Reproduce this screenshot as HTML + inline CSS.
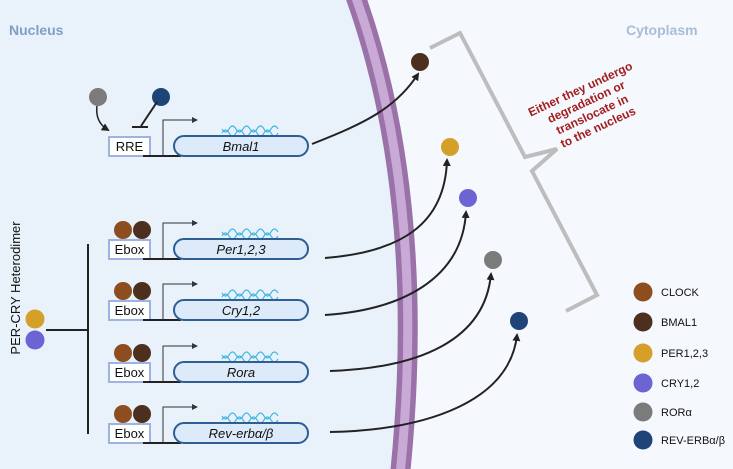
<!DOCTYPE html>
<html><head><meta charset="utf-8"><style>
html,body{margin:0;padding:0;background:#f5f8fd;}
svg{display:block;font-family:"Liberation Sans",sans-serif;}
</style></head><body>
<svg width="733" height="469" viewBox="0 0 733 469" xmlns="http://www.w3.org/2000/svg">
<defs>
<marker id="ah" markerWidth="8" markerHeight="8" refX="6" refY="4" orient="auto" markerUnits="userSpaceOnUse"><path d="M0,0 L8,4 L0,8 Z" fill="#222"/></marker>
<marker id="sa" markerWidth="6" markerHeight="6" refX="5" refY="3" orient="auto" markerUnits="userSpaceOnUse"><path d="M0,0 L6,3 L0,6 Z" fill="#333"/></marker>
<g id="dna" fill="none" stroke="#3cb6e0" stroke-width="1.2">
<path d="M222,0 q3.5,-6 7,0 t7,0 t7,0 t7,0 t7,0 t7,0 t7,0 t7,0"/>
<path d="M222,-4 q3.5,6 7,0 t7,0 t7,0 t7,0 t7,0 t7,0 t7,0 t7,0"/>
</g>
</defs>
<rect width="733" height="469" fill="#f5f8fd"/>
<path d="M0,0 L355,0 C400,120 420,280 400,469 L0,469 Z" fill="#e9f1fb"/>
<path d="M355,-5 C400,120 420,280 400,475" fill="none" stroke="#9a72a8" stroke-width="20"/>
<path d="M355,-5 C400,120 420,280 400,475" fill="none" stroke="#c9aad6" stroke-width="9"/>
<text x="9" y="35" font-size="14" font-weight="bold" fill="#7f9ec8">Nucleus</text>
<text x="626" y="35" font-size="14" font-weight="bold" fill="#a9bdd8">Cytoplasm</text>

<circle cx="98" cy="97" r="9" fill="#7b7b7b"/>
<circle cx="161" cy="97" r="9" fill="#1f4478"/>
<path d="M97,106 Q95,122 108,130" fill="none" stroke="#222" stroke-width="1.5" marker-end="url(#ah)"/>
<line x1="157" y1="102" x2="141" y2="126" stroke="#222" stroke-width="2"/>
<line x1="132" y1="127" x2="148" y2="127" stroke="#222" stroke-width="2"/>
<rect x="109" y="137" width="41" height="19" fill="#fff" stroke="#9db4e0" stroke-width="2"/>
<text x="129.5" y="151" font-size="13" text-anchor="middle" fill="#111">RRE</text>
<line x1="143" y1="156" x2="181" y2="156" stroke="#222" stroke-width="2"/>
<path d="M163,156 V120 H197" fill="none" stroke="#333" stroke-width="1" marker-end="url(#sa)"/>
<use href="#dna" transform="translate(0,133)"/>
<rect x="174" y="136" width="134" height="20" rx="10" fill="#dceafa" stroke="#2d5f94" stroke-width="2"/>
<text x="241" y="151" font-size="13" font-style="italic" text-anchor="middle" fill="#111">Bmal1</text>

<g font-size="13" text-anchor="middle" fill="#111">
<g transform="translate(0,103)">
<circle cx="123" cy="127" r="9" fill="#8e4d1f"/><circle cx="142" cy="127" r="9" fill="#4d2f1f"/>
<rect x="109" y="137" width="41" height="19" fill="#fff" stroke="#9db4e0" stroke-width="2"/>
<text x="129.5" y="151">Ebox</text>
<line x1="143" y1="156" x2="181" y2="156" stroke="#222" stroke-width="2"/>
<path d="M163,156 V120 H197" fill="none" stroke="#333" stroke-width="1" marker-end="url(#sa)"/>
<use href="#dna" transform="translate(0,133)"/>
<rect x="174" y="136" width="134" height="20" rx="10" fill="#dceafa" stroke="#2d5f94" stroke-width="2"/>
<text x="241" y="151" font-style="italic">Per1,2,3</text>
</g>
<g transform="translate(0,164)">
<circle cx="123" cy="127" r="9" fill="#8e4d1f"/><circle cx="142" cy="127" r="9" fill="#4d2f1f"/>
<rect x="109" y="137" width="41" height="19" fill="#fff" stroke="#9db4e0" stroke-width="2"/>
<text x="129.5" y="151">Ebox</text>
<line x1="143" y1="156" x2="181" y2="156" stroke="#222" stroke-width="2"/>
<path d="M163,156 V120 H197" fill="none" stroke="#333" stroke-width="1" marker-end="url(#sa)"/>
<use href="#dna" transform="translate(0,133)"/>
<rect x="174" y="136" width="134" height="20" rx="10" fill="#dceafa" stroke="#2d5f94" stroke-width="2"/>
<text x="241" y="151" font-style="italic">Cry1,2</text>
</g>
<g transform="translate(0,226)">
<circle cx="123" cy="127" r="9" fill="#8e4d1f"/><circle cx="142" cy="127" r="9" fill="#4d2f1f"/>
<rect x="109" y="137" width="41" height="19" fill="#fff" stroke="#9db4e0" stroke-width="2"/>
<text x="129.5" y="151">Ebox</text>
<line x1="143" y1="156" x2="181" y2="156" stroke="#222" stroke-width="2"/>
<path d="M163,156 V120 H197" fill="none" stroke="#333" stroke-width="1" marker-end="url(#sa)"/>
<use href="#dna" transform="translate(0,133)"/>
<rect x="174" y="136" width="134" height="20" rx="10" fill="#dceafa" stroke="#2d5f94" stroke-width="2"/>
<text x="241" y="151" font-style="italic">Rora</text>
</g>
<g transform="translate(0,287)">
<circle cx="123" cy="127" r="9" fill="#8e4d1f"/><circle cx="142" cy="127" r="9" fill="#4d2f1f"/>
<rect x="109" y="137" width="41" height="19" fill="#fff" stroke="#9db4e0" stroke-width="2"/>
<text x="129.5" y="151">Ebox</text>
<line x1="143" y1="156" x2="181" y2="156" stroke="#222" stroke-width="2"/>
<path d="M163,156 V120 H197" fill="none" stroke="#333" stroke-width="1" marker-end="url(#sa)"/>
<use href="#dna" transform="translate(0,133)"/>
<rect x="174" y="136" width="134" height="20" rx="10" fill="#dceafa" stroke="#2d5f94" stroke-width="2"/>
<text x="241" y="151" font-style="italic">Rev-erbα/β</text>
</g>
</g>

<text transform="translate(20,288) rotate(-90)" font-size="13" text-anchor="middle" fill="#111">PER-CRY Heterodimer</text>
<circle cx="35" cy="319" r="9.5" fill="#d4a02a"/>
<circle cx="35" cy="340" r="9.5" fill="#6c64d2"/>
<line x1="46" y1="330" x2="88" y2="330" stroke="#222" stroke-width="2"/>
<line x1="88" y1="244" x2="88" y2="434" stroke="#222" stroke-width="2"/>

<g fill="none" stroke="#222" stroke-width="2">
<path d="M312,144 C360,125 395,110 418,74" marker-end="url(#ah)"/>
<path d="M325,258 C400,252 445,225 447,160" marker-end="url(#ah)"/>
<path d="M325,315 C400,310 462,280 466,212" marker-end="url(#ah)"/>
<path d="M330,371 C420,368 485,340 491,274" marker-end="url(#ah)"/>
<path d="M330,432 C430,430 510,400 517,335" marker-end="url(#ah)"/>
</g>
<circle cx="420" cy="62" r="9" fill="#4d2f1f"/>
<circle cx="450" cy="147" r="9" fill="#d4a02a"/>
<circle cx="468" cy="198" r="9" fill="#6c64d2"/>
<circle cx="493" cy="260" r="9" fill="#7b7b7b"/>
<circle cx="519" cy="321" r="9" fill="#1f4478"/>

<polyline points="430,48 460,33 525,157 557,149 532,171 597,295 566,311" fill="none" stroke="#bdbdbd" stroke-width="4" stroke-linejoin="miter"/>
<g transform="translate(590,110) rotate(-25)" font-size="12" font-weight="bold" fill="#a31d1d" text-anchor="middle">
<text x="0" y="-19">Either they undergo</text>
<text x="0" y="-5">degradation or</text>
<text x="0" y="9">translocate in</text>
<text x="0" y="23">to the nucleus</text>
</g>

<g font-size="11" fill="#111">
<circle cx="643" cy="292" r="9.5" fill="#8e4d1f"/><text x="661" y="296">CLOCK</text>
<circle cx="643" cy="322" r="9.5" fill="#4d2f1f"/><text x="661" y="326">BMAL1</text>
<circle cx="643" cy="353" r="9.5" fill="#d4a02a"/><text x="661" y="357">PER1,2,3</text>
<circle cx="643" cy="383" r="9.5" fill="#6c64d2"/><text x="661" y="387">CRY1,2</text>
<circle cx="643" cy="412" r="9.5" fill="#7b7b7b"/><text x="661" y="416">RORα</text>
<circle cx="643" cy="440" r="9.5" fill="#1f4478"/><text x="661" y="444">REV-ERBα/β</text>
</g>
</svg>
</body></html>
